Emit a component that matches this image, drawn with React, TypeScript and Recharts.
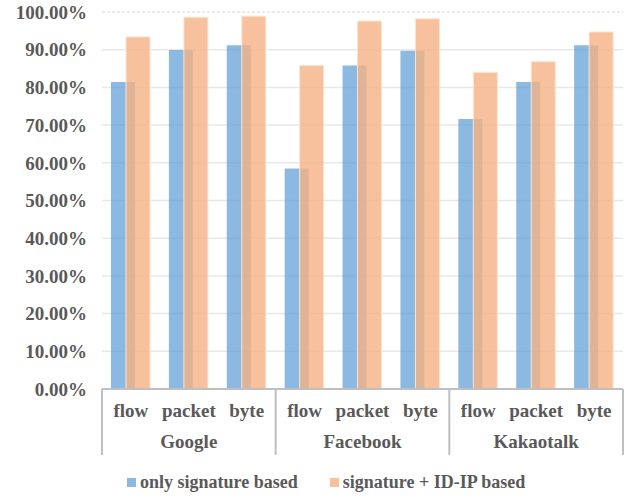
import React from 'react';
import { BarChart, Bar, XAxis, YAxis, CartesianGrid, Legend, ReferenceLine } from 'recharts';

const groups = ['Google', 'Facebook', 'Kakaotalk'];
const metrics = ['flow', 'packet', 'byte'];
const onlySignature = [81.4, 89.9, 91.2, 58.5, 85.8, 89.7, 71.6, 81.4, 91.2];
const signatureIdIp = [93.4, 98.6, 98.9, 85.8, 97.6, 98.2, 84.0, 86.8, 94.7];
const yTicks = [0, 10, 20, 30, 40, 50, 60, 70, 80, 90, 100];

const data = onlySignature.map((v, i) => ({
  key: `${groups[Math.floor(i / 3)]}-${metrics[i % 3]}`,
  group: groups[Math.floor(i / 3)],
  metric: metrics[i % 3],
  only: v,
  idip: signatureIdIp[i],
}));

const W = 632;
const H = 497;
const MARGIN = { top: 12, right: 9, left: 0, bottom: 0 };
const Y_WIDTH = 102;
const BAND = (W - Y_WIDTH - MARGIN.left - MARGIN.right) / data.length;
const FONT = 'Liberation Serif';
const TEXT = '#595959';
const SEP = '#BFBFBF';

const BLUE = '#5B9BD5';
const ORANGE = '#F4B183';

function CategoryTick(props: any) {
  const { x, y, payload } = props;
  const i = payload.index;
  const d = data[i];
  return (
    <g>
      <text x={x} y={y + 28} textAnchor="middle" fill={TEXT} fontFamily={FONT} fontWeight="bold" fontSize={19}>
        {d.metric}
      </text>
      {i % 3 === 1 && (
        <text x={x} y={y + 59} textAnchor="middle" fill={TEXT} fontFamily={FONT} fontWeight="bold" fontSize={19}>
          {d.group}
        </text>
      )}
      {i % 3 === 0 && <line x1={x - BAND / 2} x2={x - BAND / 2} y1={y} y2={y + 66} stroke={SEP} strokeWidth={2} />}
      {i === data.length - 1 && (
        <line x1={x + BAND / 2} x2={x + BAND / 2} y1={y} y2={y + 66} stroke={SEP} strokeWidth={2} />
      )}
    </g>
  );
}

function LegendContent() {
  const items = [
    { label: 'only signature based', color: BLUE, opacity: 0.7 },
    { label: 'signature + ID-IP based', color: ORANGE, opacity: 0.8 },
  ];
  return (
    <div style={{ display: 'flex', paddingLeft: 127, alignItems: 'center', height: 30 }}>
      {items.map((it, idx) => (
        <div key={it.label} style={{ display: 'flex', alignItems: 'center', marginRight: idx === 0 ? 32 : 0 }}>
          <span style={{ width: 9, height: 9, background: it.color, opacity: it.opacity, display: 'inline-block', marginRight: 4 }} />
          <span style={{ fontFamily: FONT, fontWeight: 'bold', fontSize: 18, color: TEXT }}>{it.label}</span>
        </div>
      ))}
    </div>
  );
}

export default function App() {
  return (
    <div style={{ position: 'absolute', left: 0, top: 0, width: W, height: H, background: '#fff' }}>
      <BarChart width={W} height={H} data={data} margin={MARGIN} barSize={24} barGap={-9}>
        <CartesianGrid vertical={false} stroke="#E8E8E8" strokeWidth={1.5} horizontalValues={[10, 20, 30, 40, 50, 60, 70, 80, 90]} />
        <ReferenceLine y={100} stroke="#E3E3E3" strokeDasharray="3 2" strokeWidth={1.5} />
        <XAxis
          dataKey="key"
          height={78}
          interval={0}
          tickLine={false}
          tickSize={0}
          tickMargin={0}
          axisLine={{ stroke: SEP, strokeWidth: 2 }}
          tick={<CategoryTick />}
        />
        <YAxis
          width={Y_WIDTH}
          domain={[0, 100]}
          ticks={yTicks}
          axisLine={false}
          tickLine={false}
          tickSize={0}
          tickMargin={15}
          tickFormatter={(v: number) => `${v.toFixed(2)}%`}
          tick={{ fill: TEXT, fontFamily: FONT, fontWeight: 'bold', fontSize: 19 }}
        />
        <Legend verticalAlign="bottom" height={30} content={<LegendContent />} />
        <Bar dataKey="only" name="only signature based" fill={BLUE} fillOpacity={0.7} isAnimationActive={false} />
        <Bar dataKey="idip" name="signature + ID-IP based" fill={ORANGE} fillOpacity={0.8} stroke="#FBE3D3" strokeWidth={1} isAnimationActive={false} />
      </BarChart>
    </div>
  );
}
